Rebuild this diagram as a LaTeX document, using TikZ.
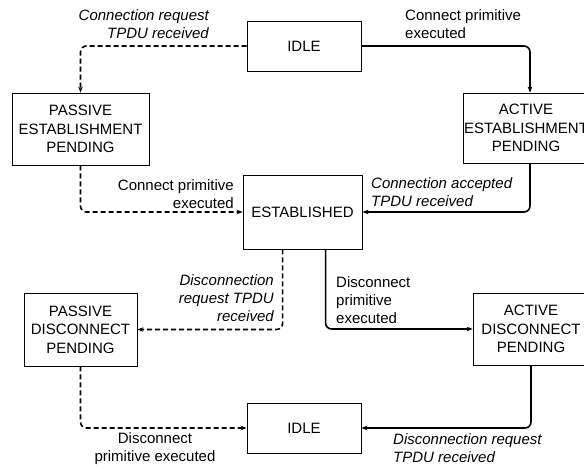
\documentclass[tikz,border=0pt]{standalone}
\usepackage{fontspec}
\setmainfont{Liberation Sans}
\usetikzlibrary{arrows.meta}
\tikzset{
  state/.style={draw, line width=0.8pt, inner sep=0pt, align=center, font=\fontsize{15}{18.5}\selectfont},
  lbl/.style={inner sep=0pt, font=\fontsize{15}{18}\selectfont},
  ilbl/.style={inner sep=0pt, font=\fontsize{15}{18}\selectfont\itshape},
  conn/.style={line width=1.6pt, rounded corners=6pt, -{Stealth[length=6pt,width=4.5pt]}},
  dconn/.style={conn, dash pattern=on 5pt off 3pt},
}
\begin{document}
\begin{tikzpicture}[x=1pt,y=1pt]
\useasboundingbox (0,0) rectangle (584,-467);
% states
\node[state, minimum width=114, minimum height=50] (idle1) at (304,-46) {IDLE};
\node[state, minimum width=137, minimum height=72] (pe) at (80.5,-129) {PASSIVE\\ESTABLISHMENT\\PENDING};
\node[state, minimum width=134, minimum height=70] (ae) at (530,-128) {};
\node[lbl, align=center, font=\fontsize{15}{18.5}\selectfont] (aet) at (526,-128) {ACTIVE\\ESTABLISHMENT\\PENDING};
\node[state, minimum width=119, minimum height=74] (est) at (302.5,-212) {ESTABLISHED};
\node[state, minimum width=113, minimum height=73] (pd) at (80.5,-329.5) {PASSIVE\\DISCONNECT\\PENDING};
\node[state, minimum width=116, minimum height=72] (ad) at (531,-329) {};
\node[lbl, align=center, font=\fontsize{15}{18.5}\selectfont] (adt) at (531,-329) {ACTIVE\\DISCONNECT\\PENDING};
\node[state, minimum width=114, minimum height=50] (idle2) at (304,-428) {IDLE};
% connectors
\draw[dconn] (idle1.west) -| (pe.north);
\draw[conn] (idle1.east) -| (ae.north);
\draw[dconn] (pe.south) |- (est.west);
\draw[conn] (ae.south) |- (est.east);
\draw[dconn] ([xshift=40pt]est.south west) |- (pd.east);
\draw[conn] ([xshift=83pt]est.south west) |- (ad.west);
\draw[dconn] (pd.south) |- (idle2.west);
\draw[conn] (ad.south) |- (idle2.east);
% labels
\node[ilbl, align=right, anchor=east] (l1) at (209,-24.5) {Connection request\\TPDU received};
\node[lbl, align=left, anchor=west] (l2) at (405,-24.5) {Connect primitive\\executed};
\node[lbl, align=right, anchor=east] (l3) at (234,-194) {Connect primitive\\executed};
\node[ilbl, align=left, anchor=west] (l4) at (371,-192) {Connection accepted\\TPDU received};
\node[ilbl, align=right, anchor=east] (l5) at (274,-298) {Disconnection\\request TPDU\\received};
\node[lbl, align=left, anchor=west] (l6) at (336,-300) {Disconnect\\primitive\\executed};
\node[lbl, align=center] (l7) at (155,-449) {Disconnect\\primitive executed};
\node[ilbl, align=left, anchor=west] (l8) at (393,-448) {Disconnection request\\TPDU received};
\end{tikzpicture}
\end{document}
